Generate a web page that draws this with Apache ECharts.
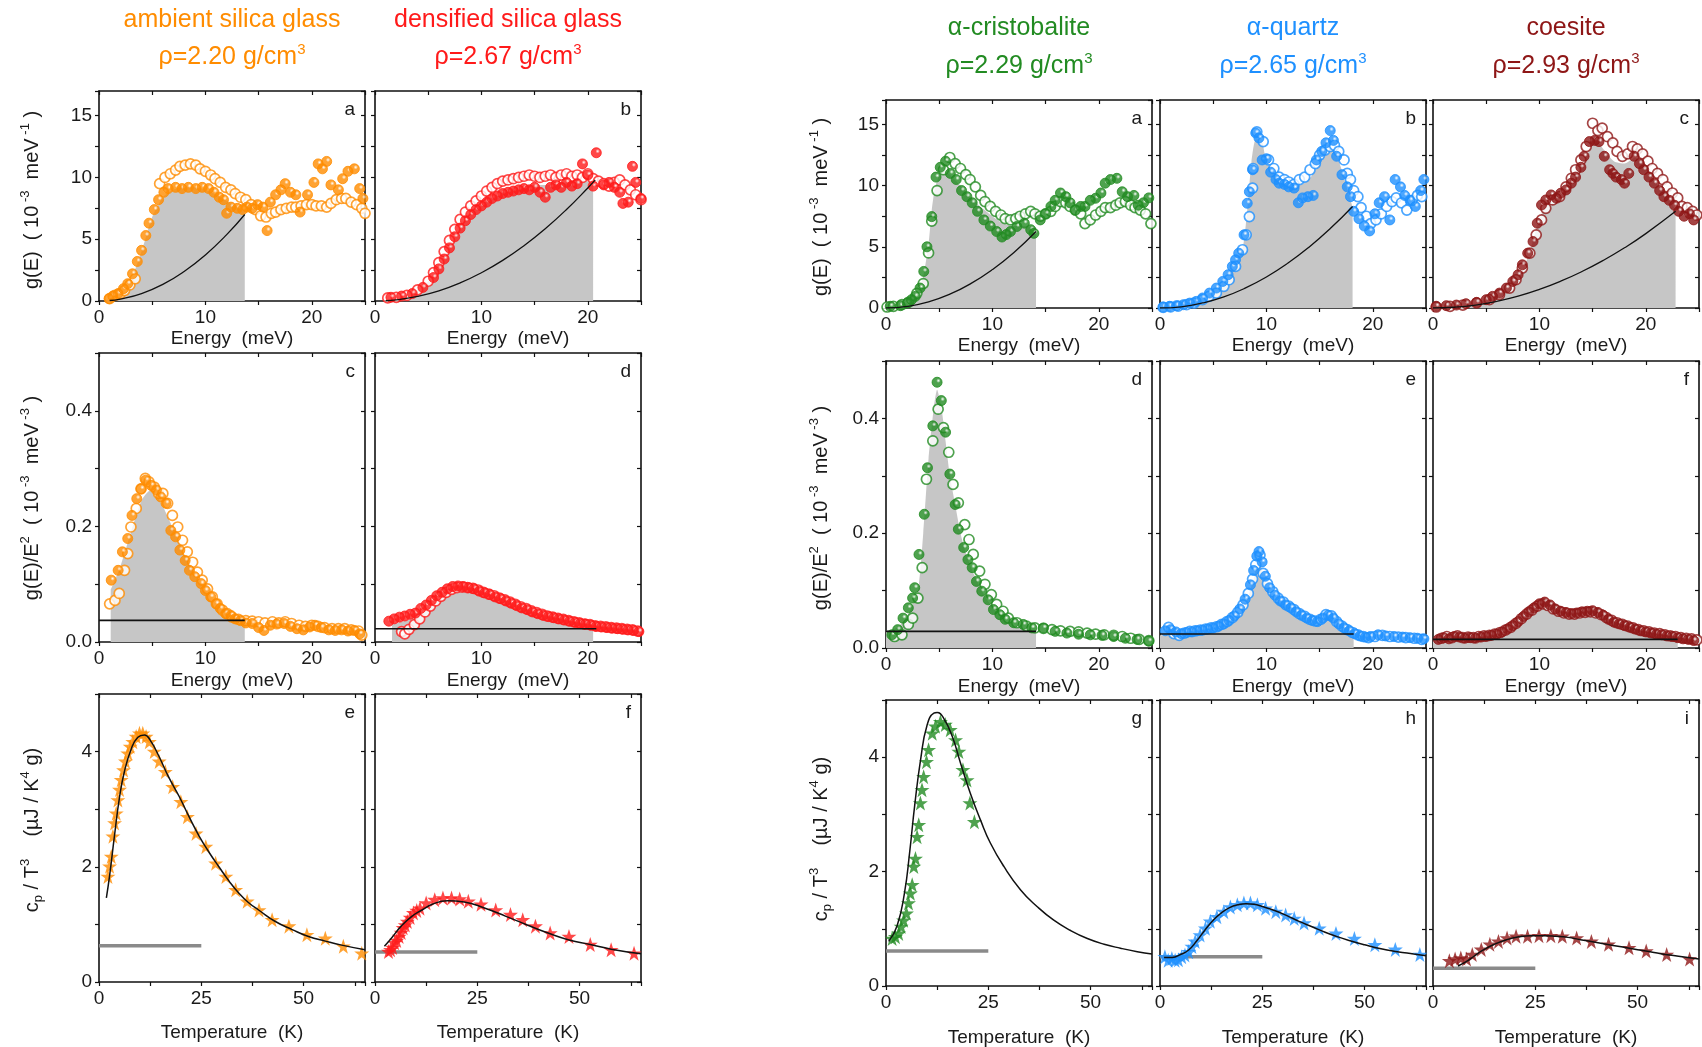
<!DOCTYPE html>
<html>
<head>
<meta charset="utf-8">
<script src="https://cdn.jsdelivr.net/npm/echarts@6/dist/echarts.min.js"></script>
<style>
  html, body { margin: 0; padding: 0; background: #fff; }
  #chart { width: 1702px; height: 1047px; }
</style>
</head>
<body>
<div id="chart"></div>
<script>
// ---------------- materials ----------------
const materials = ['ambient silica glass', 'densified silica glass', 'α-cristobalite', 'α-quartz', 'coesite'];
const densities = ['2.20', '2.67', '2.29', '2.65', '2.93'];
const colors = ['#ff8c00', '#ff1a1a', '#228b22', '#1e90ff', '#8e1616'];
const panelLetters = [['a', 'c', 'e'], ['b', 'd', 'f'], ['a', 'd', 'g'], ['b', 'e', 'h'], ['c', 'f', 'i']];

// ---------------- g(E), 10^-3 meV^-1 ----------------
const ambientG_filled = [[0.95,0.19],[1.3,0.4],[1.8,0.6],[2.3,1.0],[2.7,1.4],[3.15,2.2],[3.6,3.2],[4.0,4.1],[4.4,5.3],[4.7,6.3],[5.2,7.4],[5.6,8.2],[6.1,8.8],[6.5,9.1],[7.2,9.2],[7.8,9.1],[8.4,9.2],[9.1,9.1],[9.7,9.2],[10.3,9.1],[10.8,8.8],[11.3,8.4],[11.7,8.2],[12.0,7.1],[12.4,7.6],[13.0,7.5],[13.5,7.4],[13.9,7.6],[14.4,7.5],[14.9,7.8],[15.4,7.6],[15.8,5.7],[16.1,8.0],[16.6,8.6],[17.1,9.0],[17.5,9.5],[18.0,8.8],[18.5,8.6],[18.9,7.2],[19.6,8.6],[20.2,9.6],[20.6,11.1],[21.0,10.7],[21.4,11.3],[21.8,9.4],[22.5,9.0],[22.9,9.9],[23.4,10.5],[24.0,10.7],[24.5,9.1],[24.8,8.3]];
const ambientG_open = [[1.0,0.2],[1.5,0.45],[2.0,0.6],[2.4,0.85],[2.9,1.3],[3.4,1.8],[5.7,9.5],[6.2,10.0],[6.7,10.3],[7.2,10.6],[7.6,10.9],[8.1,11.0],[8.6,11.1],[9.1,11.0],[9.5,10.7],[10.0,10.5],[10.5,10.2],[10.9,9.9],[11.4,9.6],[11.9,9.2],[12.4,9.0],[12.8,8.7],[13.3,8.4],[13.8,8.2],[14.3,7.8],[14.7,7.4],[15.2,6.9],[15.7,6.8],[16.2,7.1],[16.6,7.2],[17.1,7.4],[17.6,7.5],[18.1,7.6],[18.5,7.6],[19.0,7.7],[19.5,7.8],[20.0,7.8],[20.4,7.7],[20.9,7.7],[21.4,7.6],[21.8,7.9],[22.3,8.2],[22.8,8.3],[23.2,8.3],[23.7,8.0],[24.2,7.8],[24.7,7.5],[25.0,7.1]];
const ambientG_area = [[1.0,0.2],[2,0.5],[3,1.7],[4,4.0],[5,6.8],[6,8.4],[7,9.0],[8,9.2],[9,9.2],[10,9.0],[11,8.6],[12,8.1],[13,7.6],[13.7,7.2]];
const ambientG_debye = [[1,0.04],[2,0.15],[4,0.6],[6,1.34],[8,2.39],[10,3.73],[12,5.37],[13.7,7.0]];

const densifiedG_filled = [[1.5,0.3],[2.5,0.4],[3.5,0.6],[4.5,1.1],[5.5,1.9],[6.0,2.6],[6.5,3.4],[7.0,4.3],[7.5,5.2],[8.0,5.9],[8.5,6.5],[9.0,7.0],[9.5,7.4],[10.0,7.7],[10.5,8.0],[11.0,8.3],[11.5,8.5],[12.0,8.7],[12.5,8.8],[13.0,8.9],[13.5,9.0],[14.0,9.1],[14.5,9.0],[15.0,9.2],[15.5,8.8],[16.0,8.4],[16.5,9.2],[17.0,9.4],[17.5,9.2],[18.0,9.6],[18.5,9.3],[19.0,9.5],[19.5,11.1],[20.0,10.2],[20.5,9.3],[20.8,12.0],[21.5,9.4],[22.0,9.6],[22.5,9.2],[23.0,8.8],[23.3,7.9],[23.8,8.0],[24.2,10.9],[24.5,9.6],[25.0,8.3]];
const densifiedG_open = [[1.2,0.25],[2.0,0.3],[3.0,0.45],[4.0,0.9],[5.0,1.6],[5.5,2.3],[6.0,3.1],[6.5,4.0],[7.0,4.9],[7.5,5.8],[8.0,6.6],[8.5,7.2],[9.0,7.7],[9.5,8.1],[10.0,8.5],[10.5,8.9],[11.0,9.2],[11.5,9.5],[12.0,9.7],[12.5,9.8],[13.0,9.9],[13.5,10.0],[14.0,10.1],[14.5,10.2],[15.0,10.1],[15.5,10.0],[16.0,10.1],[16.5,10.2],[17.0,10.0],[17.5,10.2],[18.0,10.3],[18.5,10.1],[19.0,10.2],[19.5,10.0],[20.0,10.3],[20.5,9.9],[21.0,9.7],[21.5,9.5],[22.0,9.3],[22.5,9.6],[23.0,9.8],[23.5,9.4],[24.0,9.0],[24.5,8.6],[25.0,8.2]];
const densifiedG_area = [[1.5,0.3],[2,0.35],[3,0.55],[4,0.9],[5,1.6],[6,2.7],[7,4.4],[8,6.0],[9,7.1],[10,7.8],[11,8.4],[12,8.8],[13,9.1],[14,9.3],[15,9.4],[16,9.4],[17,9.5],[18,9.6],[19,9.7],[20,9.7],[20.5,9.7]];
const densifiedG_debye = [[1,0.02],[2,0.09],[4,0.37],[6,0.82],[8,1.46],[10,2.29],[12,3.29],[14,4.48],[16,5.85],[18,7.41],[20,9.15],[20.7,9.8]];

const cristobaliteG_filled = [[0.4,0.14],[1.35,0.19],[2.0,0.4],[2.4,0.68],[2.75,0.95],[3.2,1.63],[3.55,2.99],[3.85,5.0],[4.3,7.47],[4.7,10.7],[5.1,11.5],[5.6,12.0],[6.05,11.0],[6.6,10.5],[7.1,9.6],[7.6,9.1],[8.1,8.6],[8.6,7.9],[9.2,7.2],[9.8,6.7],[10.4,6.25],[10.9,5.8],[11.3,6.0],[11.7,6.25],[12.3,6.66],[13.0,6.93],[13.6,6.4],[13.9,6.1],[14.5,7.2],[15.0,7.7],[15.5,8.3],[15.9,8.8],[16.4,9.4],[16.9,9.1],[17.3,8.6],[17.8,8.0],[18.3,8.3],[18.7,8.3],[19.2,8.8],[19.7,8.97],[20.2,9.4],[20.6,10.2],[21.1,10.5],[21.7,10.6],[22.2,9.5],[22.7,9.1],[23.3,9.2],[23.7,8.4],[24.2,8.6],[24.7,9.0]];
const cristobaliteG_open = [[0.1,0.08],[0.7,0.14],[1.5,0.27],[2.1,0.46],[2.9,1.2],[3.5,2.0],[4.0,4.5],[4.3,7.1],[4.8,9.6],[5.4,11.3],[6.0,12.3],[6.5,11.8],[7.0,11.4],[7.5,10.9],[7.9,10.5],[8.4,9.9],[8.9,9.2],[9.3,8.7],[9.8,8.3],[10.3,7.9],[10.8,7.6],[11.2,7.3],[11.7,7.2],[12.2,7.3],[12.6,7.5],[13.1,7.7],[13.6,7.9],[14.0,7.7],[14.5,7.5],[15.0,7.7],[15.5,7.9],[15.9,8.3],[16.4,8.7],[16.9,8.6],[17.3,8.3],[17.8,8.0],[18.3,7.7],[18.7,6.9],[19.2,7.2],[19.7,7.6],[20.2,7.9],[20.6,8.2],[21.1,8.2],[21.6,8.4],[22.0,8.6],[22.5,8.7],[23.0,8.4],[23.4,8.2],[23.9,8.0],[24.4,7.7],[24.9,6.9]];
const cristobaliteG_area = [[0,0],[1,0.1],[2,0.35],[3,1.3],[3.5,2.6],[4.0,5.2],[4.3,8.0],[4.6,9.8],[5.0,10.8],[5.5,11.2],[6,10.9],[7,10.0],[8,9.0],[9,8.2],[10,7.5],[11,6.9],[12,6.7],[13,6.7],[14.1,6.6]];
const cristobaliteG_debye = [[0,0],[2,0.13],[4,0.5],[6,1.13],[8,2.01],[10,3.14],[12,4.52],[14.1,6.25]];

const quartzG_filled = [[0.3,0.08],[0.9,0.14],[1.55,0.19],[2.2,0.27],[2.8,0.4],[3.4,0.54],[4.0,0.82],[4.65,1.22],[5.3,1.63],[5.9,2.17],[6.4,2.72],[6.8,3.4],[7.1,3.94],[7.4,4.48],[7.9,5.98],[8.2,8.56],[8.4,9.5],[8.7,11.3],[9.0,14.3],[9.3,13.9],[9.6,12.1],[10.0,12.2],[10.4,11.1],[10.9,10.5],[11.2,10.2],[11.7,10.1],[12.1,9.9],[12.6,9.8],[13.0,8.6],[13.4,9.0],[13.9,9.1],[14.4,9.2],[14.7,12.1],[15.2,12.8],[15.6,13.5],[16.0,14.5],[16.3,13.7],[16.6,12.4],[17.1,10.9],[17.6,9.9],[17.9,9.1],[18.2,7.9],[18.7,7.3],[19.2,6.7],[19.7,6.3],[20.2,7.7],[20.6,8.6],[21.1,9.1],[21.6,7.2],[22.1,10.5],[22.6,9.9],[23.0,9.2],[23.5,8.8],[24.0,8.3],[24.5,9.6],[24.8,10.5]];
const quartzG_open = [[0.3,0.05],[1.0,0.1],[1.7,0.15],[2.5,0.27],[3.2,0.4],[4.0,0.68],[4.6,0.95],[5.3,1.22],[6.0,1.77],[6.5,2.31],[7.1,3.4],[7.75,4.76],[8.1,5.98],[8.4,7.47],[8.7,9.8],[8.75,11.4],[9.1,14.4],[9.7,13.6],[10.2,12.1],[10.7,11.4],[11.2,10.7],[11.7,10.5],[12.1,10.3],[12.6,10.1],[13.1,10.5],[13.6,10.7],[14.1,11.3],[14.6,11.8],[15.0,12.5],[15.5,12.9],[16.0,13.2],[16.4,13.3],[16.8,12.8],[17.3,12.1],[17.6,11.0],[17.9,10.5],[18.2,9.6],[18.6,9.1],[18.9,8.2],[19.4,7.5],[19.8,6.9],[20.3,7.2],[20.8,7.7],[21.3,8.3],[21.8,8.7],[22.2,9.0],[22.7,8.6],[23.2,8.0],[23.7,8.8],[24.2,9.2],[24.6,9.1]];
const quartzG_area = [[0,0],[2,0.2],[4,0.8],[5,1.4],[6,2.2],[7,3.5],[7.8,5.0],[8.2,8.0],[8.6,12.0],[9.0,13.8],[9.5,13.8],[10,12.0],[11,10.8],[12,10.2],[13,10.0],[14,10.5],[15,11.8],[16,13.2],[16.5,12.8],[17,11.5],[17.5,10.0],[18.1,8.3]];
const quartzG_debye = [[0,0],[2,0.1],[4,0.41],[6,0.91],[8,1.62],[10,2.53],[12,3.65],[14,4.97],[16,6.49],[18.1,8.3]];

const coesiteG_filled = [[0.3,0.14],[1.25,0.19],[2.2,0.24],[3.1,0.35],[4.1,0.46],[5.0,0.68],[5.6,0.95],[6.25,1.22],[6.9,1.63],[7.5,2.17],[8.0,2.72],[8.4,3.53],[8.9,4.48],[9.4,5.43],[9.8,6.93],[10.2,8.42],[10.6,8.83],[11.1,9.24],[11.6,8.97],[12.0,9.38],[12.5,9.65],[13.0,10.2],[13.4,10.7],[13.9,11.5],[14.2,12.4],[14.7,13.6],[15.2,13.7],[15.6,13.6],[16.1,12.4],[16.6,11.3],[16.9,11.0],[17.2,10.7],[17.7,10.5],[18.0,10.2],[18.4,11.0],[18.9,12.4],[19.4,11.8],[19.8,11.3],[20.3,10.7],[20.8,10.2],[21.3,9.6],[21.7,9.1],[22.2,8.8],[22.7,8.4],[23.1,7.9],[23.6,7.5],[24.1,7.7],[24.5,7.2]];
const coesiteG_open = [[0.3,0.08],[1.6,0.14],[2.8,0.24],[4.1,0.41],[5.3,0.68],[6.25,1.09],[7.2,1.63],[7.8,2.31],[8.4,3.26],[9.1,4.48],[9.7,5.98],[10.2,7.2],[10.6,8.15],[11.25,8.83],[11.9,9.1],[12.5,9.9],[13.0,10.6],[13.4,11.3],[13.9,12.1],[14.4,13.2],[15.0,15.1],[15.5,14.5],[15.9,14.7],[16.4,14.0],[16.9,13.5],[17.3,12.8],[17.8,12.4],[18.3,12.6],[18.75,13.2],[19.2,13.0],[19.7,12.6],[20.2,12.0],[20.6,11.4],[21.1,11.0],[21.6,10.5],[22.0,9.9],[22.5,9.4],[23.0,9.0],[23.4,8.3],[23.9,8.2],[24.4,7.9],[24.8,7.6]];
const coesiteG_area = [[0,0],[2,0.15],[4,0.4],[6,1.0],[7,1.5],[8,2.5],[9,4.3],[10,7.3],[11,8.8],[12,9.3],[13,10.3],[14,11.8],[15,13.3],[15.5,13.5],[16,13.0],[17,12.0],[18,11.8],[19,12.3],[20,11.4],[21,10.2],[22,9.2],[22.8,8.0]];
const coesiteG_debye = [[0,0],[2,0.06],[4,0.24],[6,0.55],[8,0.97],[10,1.52],[12,2.19],[14,2.98],[16,3.89],[18,4.92],[20,6.08],[22.8,7.9]];

// ---------------- g(E)/E^2, 10^-3 meV^-3 ----------------
const ambientGE2_filled = [[1.15,0.107],[1.8,0.124],[2.2,0.156],[2.7,0.179],[3.1,0.219],[3.55,0.248],[3.95,0.265],[4.4,0.28],[4.9,0.271],[5.4,0.263],[5.8,0.251],[6.3,0.24],[6.75,0.193],[7.2,0.182],[7.6,0.159],[8.1,0.141],[8.5,0.124],[9.0,0.113],[9.6,0.101],[10.0,0.089],[10.5,0.078],[11.0,0.066],[11.4,0.058],[11.9,0.049],[12.4,0.046],[12.8,0.04],[13.3,0.037],[13.8,0.033],[14.4,0.032],[15.0,0.025],[15.5,0.02],[16.1,0.029],[16.7,0.031],[17.4,0.032],[18.0,0.027],[18.6,0.023],[19.2,0.021],[19.8,0.026],[20.3,0.029],[20.9,0.025],[21.6,0.021],[22.2,0.02],[22.8,0.021],[23.4,0.019],[24.0,0.02],[24.5,0.014]];
const ambientGE2_open = [[1.0,0.066],[1.5,0.072],[1.9,0.084],[2.4,0.124],[2.7,0.153],[3.0,0.199],[3.5,0.231],[3.95,0.265],[4.35,0.283],[4.7,0.277],[5.2,0.268],[5.6,0.257],[6.0,0.257],[6.45,0.24],[6.9,0.219],[7.4,0.199],[7.85,0.176],[8.3,0.156],[8.8,0.138],[9.25,0.121],[9.7,0.107],[10.2,0.092],[10.65,0.078],[11.1,0.066],[11.6,0.055],[12.05,0.049],[12.5,0.043],[13.1,0.039],[13.8,0.037],[14.4,0.036],[15.0,0.035],[15.6,0.033],[16.3,0.035],[16.9,0.033],[17.5,0.035],[18.1,0.032],[18.8,0.029],[19.4,0.027],[20.0,0.029],[20.6,0.027],[21.2,0.025],[21.9,0.023],[22.5,0.023],[23.1,0.023],[23.7,0.021],[24.4,0.019],[24.7,0.012]];
const ambientGE2_area = [[1.1,0.09],[2,0.13],[3,0.19],[4,0.245],[4.8,0.262],[5.5,0.25],[6,0.235],[7,0.195],[8,0.155],[9,0.12],[10,0.09],[11,0.068],[12,0.052],[13,0.043],[13.7,0.039]];

const densifiedGE2_filled = [[1.3,0.036],[1.8,0.04],[2.3,0.043],[2.8,0.045],[3.3,0.048],[3.8,0.05],[4.3,0.058],[4.8,0.064],[5.3,0.072],[5.8,0.08],[6.3,0.086],[6.8,0.092],[7.3,0.096],[7.8,0.097],[8.3,0.096],[8.8,0.094],[9.3,0.092],[9.8,0.088],[10.3,0.085],[10.8,0.082],[11.3,0.078],[11.8,0.075],[12.3,0.071],[12.8,0.067],[13.3,0.063],[13.8,0.059],[14.3,0.056],[14.8,0.052],[15.3,0.049],[15.8,0.046],[16.3,0.044],[16.8,0.042],[17.3,0.04],[17.8,0.038],[18.3,0.036],[18.8,0.034],[19.3,0.032],[19.8,0.031],[20.3,0.029],[20.8,0.027],[21.3,0.026],[21.8,0.025],[22.3,0.024],[22.8,0.023],[23.3,0.022],[23.8,0.021],[24.3,0.02],[24.8,0.018]];
const densifiedGE2_open = [[2.5,0.018],[2.8,0.014],[3.2,0.022],[3.7,0.03],[4.2,0.04],[4.7,0.052],[5.2,0.062],[5.7,0.071],[6.2,0.079],[6.7,0.086],[7.2,0.091],[7.7,0.094],[8.2,0.095],[8.7,0.094],[9.2,0.093],[9.7,0.09],[10.2,0.086],[10.7,0.083],[11.2,0.08],[11.7,0.076],[12.2,0.073],[12.7,0.069],[13.2,0.065],[13.7,0.061],[14.2,0.058],[14.7,0.054],[15.2,0.051],[15.7,0.048],[16.2,0.045],[16.7,0.043],[17.2,0.041],[17.7,0.039],[18.2,0.037],[18.7,0.035],[19.2,0.033],[19.7,0.031],[20.2,0.03],[20.7,0.028],[21.2,0.027],[21.7,0.026],[22.2,0.025],[22.7,0.024],[23.2,0.023],[23.7,0.022],[24.2,0.021],[24.7,0.019]];
const densifiedGE2_area = [[1.6,0.03],[3,0.038],[4,0.045],[5,0.058],[6,0.072],[7,0.085],[7.8,0.09],[9,0.087],[10,0.08],[11,0.074],[12,0.066],[13,0.059],[14,0.053],[15,0.047],[16,0.042],[17,0.037],[18,0.033],[19,0.03],[20,0.027],[20.5,0.026]];

const cristobaliteGE2_filled = [[0.55,0.023],[1.1,0.032],[1.6,0.052],[2.1,0.07],[2.5,0.087],[2.7,0.105],[3.1,0.163],[3.6,0.233],[3.9,0.314],[4.4,0.387],[4.8,0.463],[5.2,0.431],[5.6,0.376],[6.0,0.303],[6.5,0.25],[6.8,0.207],[7.3,0.175],[7.7,0.154],[8.1,0.14],[8.5,0.116],[9.0,0.099],[9.6,0.084],[10.1,0.067],[10.7,0.058],[11.2,0.05],[12.0,0.044],[12.9,0.041],[13.7,0.035],[14.8,0.035],[15.9,0.029],[17.0,0.026],[18.1,0.024],[19.2,0.023],[20.3,0.022],[21.4,0.02],[22.5,0.017],[23.6,0.015],[24.7,0.012]];
const cristobaliteGE2_open = [[0.8,0.02],[1.5,0.023],[2.1,0.041],[2.5,0.052],[3.0,0.087],[3.4,0.14],[3.8,0.294],[4.4,0.361],[4.9,0.416],[5.4,0.384],[5.9,0.341],[6.3,0.285],[6.8,0.253],[7.4,0.215],[7.8,0.189],[8.2,0.163],[8.8,0.134],[9.3,0.111],[9.9,0.093],[10.4,0.076],[11.0,0.064],[11.5,0.052],[12.3,0.044],[13.2,0.038],[14.0,0.035],[14.8,0.034],[15.6,0.032],[16.4,0.03],[17.3,0.029],[18.1,0.028],[18.9,0.026],[19.7,0.024],[20.5,0.023],[21.4,0.022],[22.2,0.02],[23.0,0.017],[23.8,0.015],[24.7,0.013]];
const cristobaliteGE2_area = [[0,0.03],[1,0.035],[2,0.055],[3,0.1],[3.5,0.2],[4,0.33],[4.5,0.42],[4.8,0.45],[5.2,0.42],[5.6,0.36],[6,0.3],[6.5,0.25],[7,0.2],[7.5,0.165],[8,0.14],[9,0.1],[10,0.07],[11,0.053],[12,0.045],[13,0.04],[14.1,0.036]];

const quartzGE2_filled = [[0.5,0.03],[1.0,0.032],[1.5,0.028],[2.0,0.025],[2.5,0.027],[3.0,0.028],[3.5,0.03],[4.0,0.031],[4.5,0.033],[5.0,0.035],[5.5,0.038],[6.0,0.042],[6.5,0.048],[7.0,0.056],[7.5,0.068],[8.0,0.085],[8.5,0.11],[8.8,0.135],[9.1,0.16],[9.3,0.168],[9.6,0.15],[9.9,0.125],[10.3,0.105],[10.8,0.092],[11.3,0.082],[11.8,0.075],[12.3,0.07],[12.8,0.063],[13.3,0.057],[13.8,0.052],[14.3,0.048],[14.8,0.046],[15.3,0.052],[15.8,0.057],[16.3,0.052],[16.8,0.042],[17.3,0.035],[17.8,0.03],[18.3,0.025],[18.8,0.021],[19.3,0.019],[19.8,0.02],[20.5,0.023],[21.2,0.021],[22.0,0.02],[22.8,0.019],[23.5,0.018],[24.2,0.017],[24.8,0.016]];
const quartzGE2_open = [[0.8,0.036],[1.3,0.025],[1.8,0.022],[2.3,0.026],[2.8,0.029],[3.3,0.03],[3.8,0.031],[4.3,0.033],[4.8,0.035],[5.3,0.037],[5.8,0.041],[6.3,0.046],[6.8,0.053],[7.3,0.062],[7.8,0.075],[8.3,0.095],[8.7,0.12],[9.0,0.145],[9.4,0.162],[9.7,0.13],[10.1,0.112],[10.6,0.098],[11.1,0.087],[11.6,0.08],[12.1,0.073],[12.6,0.067],[13.1,0.06],[13.6,0.055],[14.1,0.05],[14.6,0.047],[15.1,0.05],[15.6,0.058],[16.1,0.056],[16.6,0.046],[17.1,0.038],[17.6,0.032],[18.1,0.027],[18.6,0.023],[19.1,0.02],[19.6,0.018],[20.2,0.02],[20.9,0.022],[21.6,0.02],[22.4,0.019],[23.1,0.018],[23.9,0.017],[24.6,0.015]];
const quartzGE2_area = [[0,0.022],[3,0.026],[5,0.033],[6,0.04],[7,0.05],[8,0.075],[8.8,0.12],[9.3,0.155],[9.8,0.12],[10.5,0.095],[11.5,0.078],[12.5,0.065],[13.5,0.053],[14.5,0.046],[15.5,0.054],[16.0,0.055],[16.8,0.042],[17.5,0.032],[18.2,0.026]];

const coesiteGE2_filled = [[0.5,0.015],[1.0,0.018],[1.5,0.016],[2.0,0.02],[2.5,0.019],[3.0,0.017],[3.5,0.018],[4.0,0.017],[4.5,0.019],[5.0,0.02],[5.5,0.022],[6.0,0.024],[6.5,0.028],[7.0,0.033],[7.5,0.039],[8.0,0.046],[8.5,0.055],[9.0,0.063],[9.5,0.07],[10.0,0.077],[10.5,0.08],[11.0,0.075],[11.5,0.068],[12.0,0.064],[12.5,0.062],[13.0,0.06],[13.5,0.061],[14.0,0.063],[14.5,0.064],[15.0,0.065],[15.5,0.062],[16.0,0.057],[16.5,0.05],[17.0,0.045],[17.5,0.042],[18.0,0.039],[18.5,0.036],[19.0,0.033],[19.5,0.03],[20.0,0.028],[20.5,0.026],[21.0,0.024],[21.5,0.023],[22.0,0.021],[22.5,0.02],[23.0,0.018],[23.5,0.016],[24.0,0.015],[24.5,0.013]];
const coesiteGE2_open = [[0.8,0.017],[1.3,0.02],[1.8,0.018],[2.3,0.021],[2.8,0.018],[3.3,0.019],[3.8,0.018],[4.3,0.02],[4.8,0.021],[5.3,0.022],[5.8,0.024],[6.3,0.027],[6.8,0.031],[7.3,0.036],[7.8,0.043],[8.3,0.051],[8.8,0.059],[9.3,0.066],[9.8,0.073],[10.3,0.077],[10.8,0.074],[11.3,0.068],[11.8,0.064],[12.3,0.061],[12.8,0.059],[13.3,0.059],[13.8,0.061],[14.3,0.062],[14.8,0.063],[15.3,0.061],[15.8,0.058],[16.3,0.053],[16.8,0.048],[17.3,0.044],[17.8,0.041],[18.3,0.038],[18.8,0.035],[19.3,0.032],[19.8,0.03],[20.3,0.028],[20.8,0.026],[21.3,0.025],[21.8,0.023],[22.3,0.021],[22.8,0.02],[23.3,0.018],[23.8,0.017],[24.3,0.016],[24.8,0.014]];
const coesiteGE2_area = [[0,0.015],[5,0.018],[6,0.022],[7,0.03],[8,0.042],[9,0.058],[10,0.07],[10.5,0.072],[11,0.066],[12,0.058],[13,0.055],[14,0.058],[15,0.06],[16,0.052],[17,0.042],[18,0.036],[19,0.03],[20,0.026],[21,0.022],[22,0.019],[23,0.017]];

// Debye levels of g(E)/E^2 and the energy where each level line ends
const debyeLevelsE2 = [0.0375, 0.023, 0.029, 0.0245, 0.015];
const debyeLevelEnds = [13.7, 20.8, 14.1, 18.2, 23.0];

// ---------------- c_p / T^3, µJ / K^4 g ----------------
const ambientCp_stars = [[2.19,1.83],[2.59,2.01],[3.0,2.18],[3.4,2.53],[3.81,2.76],[4.21,2.93],[4.62,3.16],[5.02,3.34],[5.43,3.51],[6.0,3.68],[6.48,3.83],[7.05,3.97],[7.62,4.09],[8.27,4.17],[9.08,4.26],[9.89,4.32],[10.7,4.32],[11.5,4.26],[12.3,4.17],[13.5,4.0],[14.7,3.83],[16.2,3.65],[18.0,3.39],[20.0,3.13],[21.6,2.87],[23.7,2.58],[26.1,2.35],[28.5,2.06],[31.0,1.83],[33.4,1.6],[36.2,1.4],[39.1,1.25],[42.3,1.08],[46.4,0.97],[50.8,0.82],[55.3,0.76],[59.7,0.62],[64.2,0.5]];
const ambientCp_fit = [[1.8,1.46],[2.6,1.85],[3.8,2.55],[5.0,3.2],[6.2,3.65],[7.9,4.05],[9.5,4.25],[11.1,4.29],[12.5,4.2],[14.7,3.91],[17,3.56],[19.6,3.22],[22,2.87],[24.5,2.53],[27,2.24],[29.3,2.0],[31.7,1.76],[34.2,1.54],[36.5,1.38],[39,1.25],[43.1,1.05],[47.2,0.91],[51.2,0.79],[55.3,0.71],[59.3,0.64],[65,0.56]];

const densifiedCp_stars = [[3.3,0.53],[3.8,0.56],[4.3,0.6],[4.8,0.68],[5.3,0.72],[5.9,0.79],[6.4,0.86],[6.9,0.94],[7.4,0.99],[7.9,1.05],[8.6,1.12],[9.4,1.2],[10.2,1.24],[11.0,1.28],[12.5,1.37],[14.6,1.43],[16.6,1.46],[18.7,1.46],[20.7,1.44],[22.8,1.4],[25.9,1.35],[29.5,1.25],[33.1,1.17],[36.1,1.08],[39.2,0.97],[42.8,0.85],[47.4,0.79],[52.6,0.65],[57.7,0.56],[63.3,0.5]];
const densifiedCp_fit = [[2.3,0.62],[4,0.76],[6.4,0.97],[9,1.14],[11.5,1.25],[14,1.35],[17.7,1.41],[21.8,1.39],[26.9,1.28],[32,1.14],[37.2,0.99],[42.3,0.85],[47.4,0.73],[52.6,0.65],[57.7,0.57],[65,0.49]];

const cristobaliteCp_stars = [[1.5,0.83],[2.3,0.86],[3.1,0.92],[3.7,1.04],[4.3,1.15],[5.0,1.27],[5.5,1.45],[5.95,1.62],[6.4,1.77],[6.8,2.09],[7.2,2.23],[7.6,2.61],[8.0,2.82],[8.4,3.2],[8.8,3.43],[9.2,3.66],[9.9,3.92],[10.4,4.13],[11.3,4.42],[12.1,4.54],[13.3,4.62],[14.5,4.57],[15.7,4.48],[17.0,4.3],[17.8,4.1],[18.8,3.78],[19.8,3.6],[20.5,3.2],[21.6,2.87]];
const cristobaliteCp_fit = [[0.65,0.78],[2.7,1.05],[4.5,1.62],[5.8,2.35],[7.0,3.15],[8.5,3.98],[10.0,4.55],[11.7,4.77],[12.5,4.78],[14.1,4.68],[16.2,4.36],[18.2,3.9],[20.6,3.37],[23.1,2.9],[25.5,2.5],[28.8,2.09],[32.9,1.68],[36.9,1.39],[41,1.15],[45.1,0.97],[49.2,0.83],[53.3,0.73],[57.3,0.66],[61.4,0.6],[65,0.56]];

const quartzCp_stars = [[1.2,0.51],[2.0,0.45],[2.9,0.48],[3.7,0.45],[4.5,0.46],[5.3,0.51],[6.1,0.54],[7.0,0.6],[7.8,0.69],[8.6,0.78],[9.8,0.89],[11.1,1.01],[12.3,1.13],[13.9,1.21],[15.6,1.3],[17.2,1.38],[18.9,1.42],[20.5,1.45],[22.1,1.45],[23.8,1.42],[25.8,1.36],[28.3,1.3],[30.7,1.24],[32.8,1.18],[35.2,1.1],[38.9,1.01],[43.0,0.92],[47.5,0.83],[52.5,0.72],[57.5,0.64],[63.5,0.55]];
const quartzCp_fit = [[1,0.5],[3,0.5],[5,0.55],[7,0.63],[9,0.79],[11,0.98],[13,1.15],[15,1.28],[17,1.37],[19,1.42],[21,1.44],[23,1.43],[25,1.39],[28,1.32],[31,1.23],[34,1.13],[37,1.04],[40,0.95],[43,0.87],[46,0.8],[50,0.72],[54,0.65],[58,0.6],[62,0.56],[65,0.53]];

const coesiteCp_stars = [[4.0,0.44],[5.4,0.47],[6.8,0.49],[8.2,0.47],[9.6,0.55],[11.8,0.64],[13.9,0.73],[16.0,0.78],[18.1,0.84],[20.3,0.87],[23.1,0.87],[25.9,0.88],[28.8,0.88],[31.6,0.87],[35.1,0.84],[38.7,0.78],[42.9,0.73],[47.9,0.67],[52.1,0.61],[57.1,0.55],[62.7,0.47]];
const coesiteCp_fit = [[6.1,0.35],[8,0.42],[10,0.52],[12,0.62],[15,0.73],[18,0.81],[21,0.86],[24,0.88],[27,0.88],[30,0.87],[33,0.85],[36,0.81],[40,0.76],[44,0.71],[48,0.66],[52,0.61],[56,0.56],[60,0.52],[65,0.47]];

// Debye levels of c_p/T^3, drawn from 0 K to the temperature below
const debyeLevelsCp = [0.63, 0.52, 0.61, 0.51, 0.31];
const debyeLevelCpEnd = 25;

// ---------------- assemble ----------------
const gSets = [
  [ambientG_filled, ambientG_open, ambientG_area, ambientG_debye],
  [densifiedG_filled, densifiedG_open, densifiedG_area, densifiedG_debye],
  [cristobaliteG_filled, cristobaliteG_open, cristobaliteG_area, cristobaliteG_debye],
  [quartzG_filled, quartzG_open, quartzG_area, quartzG_debye],
  [coesiteG_filled, coesiteG_open, coesiteG_area, coesiteG_debye]
];
const ge2Sets = [
  [ambientGE2_filled, ambientGE2_open, ambientGE2_area],
  [densifiedGE2_filled, densifiedGE2_open, densifiedGE2_area],
  [cristobaliteGE2_filled, cristobaliteGE2_open, cristobaliteGE2_area],
  [quartzGE2_filled, quartzGE2_open, quartzGE2_area],
  [coesiteGE2_filled, coesiteGE2_open, coesiteGE2_area]
];
const cpSets = [
  [ambientCp_stars, ambientCp_fit],
  [densifiedCp_stars, densifiedCp_fit],
  [cristobaliteCp_stars, cristobaliteCp_fit],
  [quartzCp_stars, quartzCp_fit],
  [coesiteCp_stars, coesiteCp_fit]
];

const FONT = "'Liberation Sans', Arial, Helvetica, sans-serif";
const TEXT = '#1a1a1a';
const GRAY_FILL = '#c6c6c6';
const STAR = 'path://M50,0 L61.8,35.1 L98.1,35.1 L68.8,56.8 L79.4,91.9 L50,70.2 L20.6,91.9 L31.2,56.8 L1.9,35.1 L38.2,35.1 Z';

// panel frame geometry (two glass columns on the left, three crystals on the right)
const colLeft = [99, 375, 886, 1160, 1433];
const colWidth = 266;
const rowTops = [[91, 353, 694], [100, 361, 700]];
const rowHeights = [[210, 289, 288], [208, 287, 286]];

const rowSpecs = [
  { xMax: 25, xInt: 5, xEvery: 10, yMax: 17, yInt: 2.5, yEvery: 5, dec: 0, xName: 'Energy  (meV)', nameGap: 28 },
  { xMax: 25, xInt: 5, xEvery: 10, yMax: 0.5, yInt: 0.1, yEvery: 0.2, dec: 1, xName: 'Energy  (meV)', nameGap: 29 },
  { xMax: 65, xInt: 12.5, xEvery: 25, yMax: 5, yInt: 1, yEvery: 2, dec: 0, xName: 'Temperature  (K)', nameGap: 41 }
];

function everyFormatter(every, dec) {
  return function (v) {
    const r = v / every;
    if (Math.abs(r - Math.round(r)) > 1e-6) return '';
    return dec ? v.toFixed(dec) : String(Math.round(v));
  };
}

function ballColor(c) {
  return {
    type: 'radial', x: 0.62, y: 0.36, r: 0.7,
    colorStops: [{ offset: 0, color: '#ffffff' }, { offset: 0.28, color: c }, { offset: 1, color: c }]
  };
}

const grids = [], xAxes = [], yAxes = [], series = [], graphics = [];
const frameLine = { show: true, onZero: false, lineStyle: { color: '#111', width: 1.6 } };

for (let m = 0; m < 5; m++) {
  const grp = m < 2 ? 0 : 1;
  const c = colors[m];
  for (let r = 0; r < 3; r++) {
    const idx = m * 3 + r;
    const spec = rowSpecs[r];
    const top = rowTops[grp][r];
    const height = rowHeights[grp][r];
    grids.push({ left: colLeft[m], top: top, width: colWidth, height: height, outerBoundsMode: 'none', containLabel: false });

    const xLabel = { show: true, formatter: everyFormatter(spec.xEvery, 0), fontSize: 19, color: TEXT, fontFamily: FONT, margin: 7 };
    xAxes.push({
      gridIndex: idx, type: 'value', position: 'bottom', min: 0, max: spec.xMax, interval: spec.xInt,
      axisLine: frameLine, axisTick: { show: true, inside: false, length: 4, lineStyle: { color: '#111', width: 1.2 } },
      axisLabel: xLabel, splitLine: { show: false },
      name: spec.xName, nameLocation: 'middle', nameGap: (grp === 1 && r === 2) ? 42 : spec.nameGap,
      nameTextStyle: { fontSize: 19, color: TEXT, fontFamily: FONT }
    });
    xAxes.push({
      gridIndex: idx, type: 'value', position: 'top', min: 0, max: spec.xMax, interval: spec.xInt,
      axisLine: frameLine, axisTick: { show: true, inside: true, length: 4, lineStyle: { color: '#111', width: 1.2 } },
      axisLabel: { show: false }, splitLine: { show: false }
    });
    const showY = (m === 0 || m === 2);
    yAxes.push({
      gridIndex: idx, type: 'value', position: 'left', min: 0, max: spec.yMax, interval: spec.yInt,
      axisLine: frameLine, axisTick: { show: true, inside: false, length: 4, lineStyle: { color: '#111', width: 1.2 } },
      axisLabel: { show: showY, formatter: everyFormatter(spec.yEvery, spec.dec), fontSize: 19, color: TEXT, fontFamily: FONT, margin: 7 },
      splitLine: { show: false }
    });
    yAxes.push({
      gridIndex: idx, type: 'value', position: 'right', min: 0, max: spec.yMax, interval: spec.yInt,
      axisLine: frameLine, axisTick: { show: true, inside: true, length: 4, lineStyle: { color: '#111', width: 1.2 } },
      axisLabel: { show: false }, splitLine: { show: false }
    });

    const ax = { xAxisIndex: idx * 2, yAxisIndex: idx * 2, animation: false };
    if (r < 2) {
      const set = r === 0 ? gSets[m] : ge2Sets[m];
      // gray region under the density of states up to the cutoff
      series.push(Object.assign({
        type: 'line', data: set[2], showSymbol: false, symbol: 'none', smooth: 0.2, z: 1,
        lineStyle: { width: 0, opacity: 0 }, areaStyle: { color: GRAY_FILL, opacity: 1 }
      }, ax));
      series.push(Object.assign({
        type: 'scatter', data: set[1], symbol: 'circle', symbolSize: 10, z: 3,
        itemStyle: { color: '#ffffff', borderColor: c, borderWidth: 1.7 }
      }, ax));
      series.push(Object.assign({
        type: 'scatter', data: set[0], symbol: 'circle', symbolSize: 10, z: 4,
        itemStyle: { color: ballColor(c), borderColor: c, borderWidth: 1 }
      }, ax));
      if (r === 0) {
        series.push(Object.assign({
          type: 'line', data: set[3], symbol: 'none', smooth: true, z: 5,
          lineStyle: { color: '#111', width: 1.3 }
        }, ax));
      } else {
        series.push(Object.assign({
          type: 'line', data: [[0, debyeLevelsE2[m]], [debyeLevelEnds[m], debyeLevelsE2[m]]], symbol: 'none', z: 5,
          lineStyle: { color: '#111', width: 1.6 }
        }, ax));
      }
    } else {
      const set = cpSets[m];
      series.push(Object.assign({
        type: 'line', data: [[0, debyeLevelsCp[m]], [debyeLevelCpEnd, debyeLevelsCp[m]]], symbol: 'none', z: 2,
        lineStyle: { color: '#8a8a8a', width: 3.5 }
      }, ax));
      series.push(Object.assign({
        type: 'scatter', data: set[0], symbol: STAR, symbolSize: 15, z: 3,
        itemStyle: { color: c }
      }, ax));
      series.push(Object.assign({
        type: 'line', data: set[1], symbol: 'none', smooth: true, z: 5,
        lineStyle: { color: '#111', width: 1.5 }
      }, ax));
    }

    // panel letter in the upper right corner
    graphics.push({
      type: 'text', x: colLeft[m] + colWidth - 10, y: top + 19, z: 10,
      style: { text: panelLetters[m][r], fill: TEXT, fontSize: 19, fontFamily: FONT, align: 'right', verticalAlign: 'middle' }
    });
  }

  // column heading: material name and density
  const cx = colLeft[m] + colWidth / 2;
  graphics.push({
    type: 'text', x: cx, y: grp === 0 ? 20 : 28, z: 10,
    style: { text: materials[m], fill: c, fontSize: 25, fontFamily: FONT, align: 'center', verticalAlign: 'middle' }
  });
  graphics.push({
    type: 'text', x: cx, y: grp === 0 ? 57 : 66, z: 10,
    style: {
      text: '{n|ρ=' + densities[m] + ' g/cm}{s|3}', fill: c, align: 'center', verticalAlign: 'middle',
      fontSize: 25, fontFamily: FONT,
      rich: {
        n: { fontSize: 25, fontFamily: FONT, lineHeight: 30 },
        s: { fontSize: 15, fontFamily: FONT, lineHeight: 13, verticalAlign: 'top' }
      }
    }
  });
}

// rotated y-axis titles for each row of both groups
const yTitleTexts = [
  '{n|g(E)  ( 10}{s| -3}{n|  meV}{s| -1}{n| )}',
  '{n|g(E)/E}{s|2}{n|  ( 10}{s| -3}{n|  meV}{s| -3}{n| )}',
  '{n|c}{b|p}{n| / T}{s|3}{n|    (µJ / K}{s|4}{n| g)}'
];
const yTitleX = [32, 821];
const yTitleY = [[200, 498, 830], [207, 508, 839]];
const titleRich = {
  n: { fontSize: 20, fontFamily: FONT, lineHeight: 26 },
  s: { fontSize: 13, fontFamily: FONT, lineHeight: 13, verticalAlign: 'top' },
  b: { fontSize: 13, fontFamily: FONT, lineHeight: 13, verticalAlign: 'bottom' }
};
for (let g = 0; g < 2; g++) {
  for (let r = 0; r < 3; r++) {
    graphics.push({
      type: 'text', x: yTitleX[g], y: yTitleY[g][r], rotation: Math.PI / 2, z: 10,
      style: {
        text: yTitleTexts[r], fill: TEXT, align: 'center', verticalAlign: 'middle',
        fontSize: 20, fontFamily: FONT, rich: titleRich
      }
    });
  }
}

const chart = echarts.init(document.getElementById('chart'), null, { renderer: 'canvas' });
chart.setOption({
  backgroundColor: '#ffffff',
  animation: false,
  grid: grids,
  xAxis: xAxes,
  yAxis: yAxes,
  series: series,
  graphic: graphics
});
</script>
</body>
</html>
